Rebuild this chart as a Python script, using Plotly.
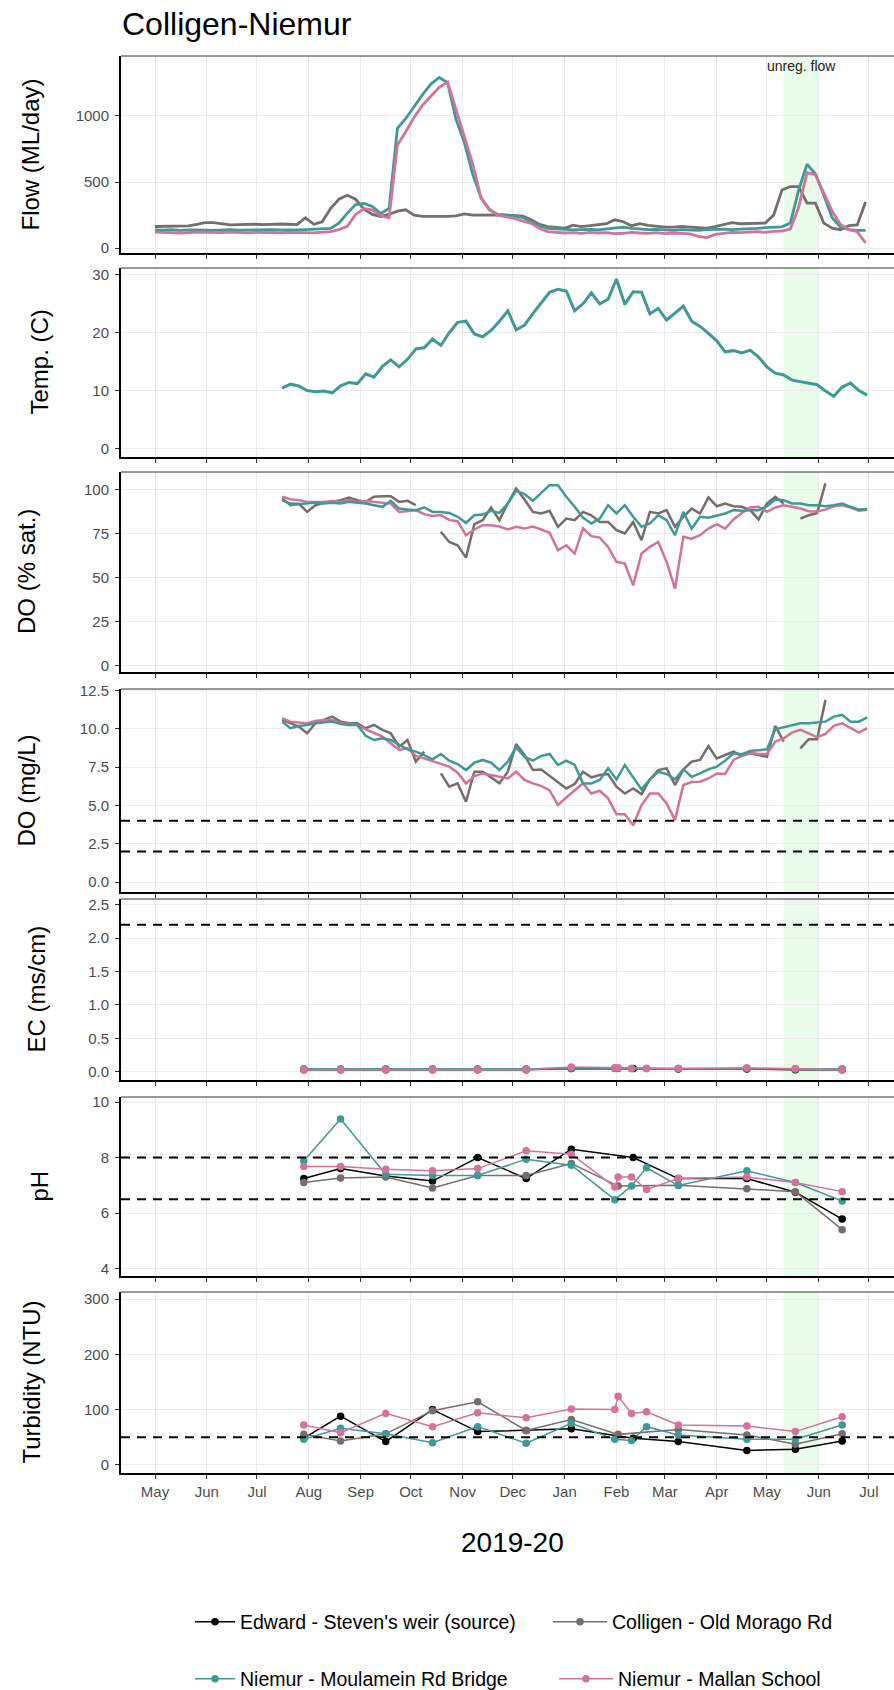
import pandas as pd
import plotly.graph_objects as go

# ---------------- DATA ----------------
SITES = ["Edward - Steven's weir (source)", "Colligen - Old Morago Rd",
         "Niemur - Moulamein Rd Bridge", "Niemur - Mallan School"]
SITE_COLORS = ["#000000", "#776d6b", "#3f9a93", "#d4729b"]

# Flow (ML/day), every 5 days from 1 May 2019
flow_dates = pd.date_range("2019-05-01", periods=86, freq="5D")
flow_colligen = [164, 164, 164, 166, 169, 181, 194, 194, 185, 176, 179, 181, 181, 178, 181, 183, 181, 178, 230, 181,
                 200, 300, 370, 400, 370, 295, 255, 240, 255, 280, 290, 250, 240, 240, 238, 240, 245, 260, 250, 252,
                 252, 252, 250, 245, 242, 215, 180, 164, 158, 151, 175, 164, 170, 176, 185, 215, 200, 170, 185, 172,
                 164, 160, 160, 164, 160, 155, 151, 164, 180, 194, 185, 185, 185, 190, 250, 440, 466, 466, 340, 340,
                 190, 151, 140, 170, 176, 350]
flow_moulamein = [138, 136, 140, 135, 138, 140, 137, 135, 138, 140, 136, 138, 135, 137, 140, 138, 136, 138, 140, 142,
                  145, 150, 190, 265, 330, 338, 315, 262, 300, 905, 980, 1070, 1160, 1240, 1290, 1250, 975, 800, 560, 380,
                  290, 255, 250, 245, 232, 200, 170, 151, 145, 140, 138, 140, 142, 138, 145, 150, 160, 150, 145, 140,
                  142, 138, 135, 140, 138, 135, 140, 142, 145, 140, 142, 145, 150, 155, 158, 162, 190, 440, 635, 560,
                  400, 230, 160, 140, 135, 135]
flow_mallan = [121, 118, 120, 115, 118, 122, 120, 117, 119, 121, 118, 116, 120, 118, 115, 117, 119, 121, 118, 116,
               120, 125, 140, 165, 255, 300, 290, 245, 230, 780, 880, 990, 1080, 1150, 1215, 1255, 1050, 830, 640, 380,
               295, 250, 240, 225, 205, 188, 150, 126, 120, 115, 118, 112, 120, 115, 118, 110, 113, 120, 115, 112,
               118, 110, 115, 112, 108, 90, 80, 105, 115, 120, 118, 122, 125, 120, 128, 130, 145, 310, 570, 555,
               420, 280, 180, 140, 125, 40]

# Logger water quality, every 5 days from 16 Jul 2019
wq_dates = pd.date_range("2019-07-16", periods=71, freq="5D")
temp_moulamein = [10.4, 11.1, 10.8, 10.0, 9.8, 9.9, 9.6, 10.8, 11.4, 11.2, 12.9, 12.3, 14.2, 15.3, 14.1, 15.4, 17.2,
                  17.4, 18.9, 17.8, 20.0, 21.8, 22.0, 19.8, 19.3, 20.4, 22.0, 23.8, 20.5, 21.3, 23.3, 25.1, 27.0, 27.5,
                  27.2, 23.8, 25.0, 26.9, 25.0, 25.8, 29.3, 24.9, 27.1, 27.0, 23.3, 24.2, 22.2, 23.4, 24.6, 22.0, 21.1,
                  19.9, 18.6, 16.7, 16.9, 16.5, 17.0, 15.8, 14.1, 13.0, 12.7, 11.8, 11.5, 11.2, 11.0, 9.9, 9.0, 10.6,
                  11.3, 10.0, 9.2]
dosat_colligen = [94, 92, 92, 87.3, 91.1, 92.5, 93, 94, 95.5, 94, 93, 95.9, 96.2, 96.2, 93, 93.6, 91.1, None, None, 76,
                  70.2, 68.3, 61.3, 80.3, 82.6, 89.8, 82.6, 92.1, 100.6, 94.3, 87.3, 86.4, 87.9, 78.8, 83.5, 82.6,
                  87.3, 85.4, 81.6, 81.6, 76.9, 75, 81.6, 71.2, 87.3, 86.4, 88.3, 78.8, 84.5, 89.2, 86.4, 95.5, 90.5,
                  92.1, 90.5, 90.2, 88.3, 83, 92.1, 95.9, 92.1, None, 83.5, 85.4, 86.7, 103.5, None, None, None, None,
                  None]
dosat_moulamein = [95, 91.1, 91.7, 92.1, 92.6, 92.1, 92.5, 92.1, 93, 92.5, 92.1, 91.1, 90.2, 93.6, 89.2, 88.6, 88.3,
                   89.8, 87.3, 87.3, 86.7, 84.5, 81.1, 85.4, 85.8, 87.9, 86.7, 92.1, 99.3, 97.4, 93.6, 98.1, 102.5,
                   102.5, 95.9, 90.2, 84, 80.7, 83.5, 91.1, 86.4, 91.1, 84.5, 78.8, 80.7, 85.4, 82.6, 74, 87.3, 77.8,
                   84.5, 84, 85.4, 86.4, 88.3, 87.9, 88.3, 88.3, 90.5, 94.3, 94, 92.1, 92.1, 91.1, 91.1, 90.5, 91.1,
                   92.1, 90.2, 88.6, 89]
dosat_mallan = [96, 94.5, 94, 93, 93, 93, 93.5, 93, 94, 93, 93.5, 93, 92.5, 92, 87.3, 88, 88.3, 86, 85, 85.5, 82.6, 82,
                74, 77.3, 79.7, 79.7, 79, 77.3, 78.8, 77.8, 79, 77.3, 75.4, 65.5, 68.3, 63.6, 78, 73.5, 72.7, 67.4,
                58.9, 57.9, 45.5, 63.6, 67.4, 70.2, 58.9, 43.6, 73.1, 72.1, 74, 77.8, 80.3, 77.8, 83, 86.7, 89.8, 90.2,
                87.3, 89.8, 91.1, 90.2, 89.2, 87.7, 87.5, 88.6, 90.5, 91.1, 89.8, 87.9, 88.5]
domg_colligen = [10.58, 10.36, 10.15, 9.71, 10.36, 10.58, 10.8, 10.47, 10.36, 10.36, 10.04, 10.25, 9.93, 9.71, 8.84,
                 9.27, 7.86, 8.51, None, 7.09, 6.22, 6.44, 5.24, 7.2, 7.2, 6.83, 6.44, 7.2, 9.01, 8.29, 7.31, 7.35,
                 6.92, 6.55, 6.11, 6.4, 7.2, 6.83, 6.98, 7.05, 6.22, 5.78, 6.11, 5.74, 6.7, 7.31, 7.42, 6.33, 7.35,
                 7.86, 7.97, 8.88, 8.07, 8.29, 8.51, 8.23, 8.4, 8.29, 8.18, 10.19, 9.17, None, 8.73, 9.32, 9.32, 11.89,
                 None, None, None, None, None]
domg_moulamein = [10.47, 10.04, 10.19, 10.25, 10.36, 10.41, 10.47, 10.32, 10.25, 10.25, 9.54, 9.27, 9.38, 9.27, 8.95,
                  8.66, 8.51, 8.29, 8.01, 8.36, 7.92, 7.7, 7.31, 7.79, 7.97, 7.79, 7.31, 7.86, 8.79, 8.18, 7.92, 8.23,
                  8.36, 7.64, 7.92, 7.64, 6.44, 6.44, 6.66, 7.42, 6.7, 7.64, 6.83, 6.05, 6.7, 7.2, 7.05, 6.7, 7.35,
                  6.87, 7.09, 7.35, 7.53, 7.92, 8.4, 8.34, 8.55, 8.62, 8.66, 9.97, 10.1, 10.25, 10.36, 10.36, 10.41,
                  10.47, 10.8, 10.91, 10.47, 10.47, 10.75]
domg_mallan = [10.69, 10.47, 10.41, 10.36, 10.52, 10.58, 10.58, 10.36, 10.32, 10.25, 9.97, 9.71, 9.49, 9.06, 8.62,
               8.73, 8.23, 8.07, 7.9, 7.75, 7.53, 7.14, 6.44, 6.92, 7.09, 6.98, 6.87, 6.76, 7.2, 6.66, 6.44, 6.26, 6.0,
               5.02, 5.52, 6.0, 6.44, 5.78, 5.96, 5.46, 4.43, 4.43, 3.71, 5.02, 5.78, 5.78, 5.13, 4.04, 6.33, 6.53,
               6.55, 6.76, 7.09, 7.05, 7.97, 8.23, 8.45, 8.36, 8.36, 9.17, 9.38, 9.75, 9.93, 9.71, 9.45, 9.67, 10.19,
               10.36, 10.04, 9.75, 10.05]

# Spot samples
edward_dates = ["2019-07-29", "2019-08-20", "2019-09-16", "2019-10-14", "2019-11-10", "2019-12-09", "2020-01-05",
                "2020-02-11", "2020-03-09", "2020-04-19", "2020-05-18", "2020-06-15"]
colligen_dates = ["2019-07-29", "2019-08-20", "2019-09-16", "2019-10-14", "2019-11-10", "2019-12-09", "2020-01-05",
                  "2020-02-02", "2020-03-09", "2020-04-19", "2020-05-18", "2020-06-15"]
moulamein_dates = ["2019-07-29", "2019-08-20", "2019-09-16", "2019-10-14", "2019-11-10", "2019-12-09", "2020-01-05",
                   "2020-01-31", "2020-02-10", "2020-02-19", "2020-03-09", "2020-04-19", "2020-05-18", "2020-06-15"]
mallan_dates = ["2019-07-29", "2019-08-20", "2019-09-16", "2019-10-14", "2019-11-10", "2019-12-09", "2020-01-05",
                "2020-01-31", "2020-02-02", "2020-02-10", "2020-02-19", "2020-03-09", "2020-04-19", "2020-05-18",
                "2020-06-15"]

ec_edward = [0.03, 0.03, 0.03, 0.03, 0.03, 0.03, 0.05, 0.05, 0.04, 0.04, 0.03, 0.03]
ec_colligen = [0.04, 0.04, 0.04, 0.04, 0.04, 0.04, 0.05, 0.05, 0.05, 0.05, 0.04, 0.04]
ec_moulamein = [0.04, 0.04, 0.04, 0.04, 0.04, 0.04, 0.06, 0.05, 0.05, 0.05, 0.05, 0.05, 0.04, 0.04]
ec_mallan = [0.03, 0.03, 0.03, 0.03, 0.03, 0.03, 0.07, 0.06, 0.06, 0.05, 0.05, 0.05, 0.06, 0.05, 0.03]

ph_edward = [7.24, 7.6, 7.33, 7.15, 8.0, 7.24, 8.3, 8.0, 7.24, 7.24, 6.75, 5.78]
ph_colligen = [7.1, 7.26, 7.3, 6.9, 7.35, 7.35, 7.78, 6.97, 7.0, 6.87, 6.77, 5.4]
ph_moulamein = [7.88, 9.39, 7.4, 7.35, 7.35, 7.94, 7.72, 6.48, 6.97, 7.63, 6.99, 7.52, 7.1, 6.43]
ph_mallan = [7.68, 7.68, 7.58, 7.52, 7.6, 8.24, 8.12, 6.94, 7.3, 7.3, 6.85, 7.24, 7.3, 7.1, 6.77]

turb_edward = [48, 88, 42, 100, 60, 62, 65, 48, 42, 26, 28, 43]
turb_colligen = [55, 43, 56, 98, 114, 62, 82, 55, 64, 54, 37, 56]
turb_moulamein = [46, 66, 56, 40, 69, 39, 75, 46, 44, 69, 54, 46, 46, 72]
turb_mallan = [72, 58, 93, 69, 94, 85, 101, 100, 124, 93, 96, 72, 70, 60, 87]

do_limits = [4, 2]
ec_limits = [2.2]
ph_limits = [8, 6.5]
turb_limits = [50]
unreg_period = ["2020-05-11", "2020-06-01"]

# ---------------- LAYOUT HELPERS ----------------
W, H = 894, 1690
PL, PR = 121, 894
X_RANGE = ["2019-04-10 16:00", "2020-07-16 00:00"]
FONT = "Liberation Sans, Arial, sans-serif"


def yp(px):
    return 1 - px / H


def xp(px):
    return (px - PL) / (PR - PL)


def ax(letter, i):
    return letter if i == 1 else f"{letter}{i}"


# (top px, bottom px, y range, tick values, tick format, title, title x px)
panels = [
    (56, 253, [-36, 1452], [0, 500, 1000], "", "Flow (ML/day)", 30),
    (268, 457, [-1.5, 31.2], [0, 10, 20, 30], "", "Temp. (C)", 39),
    (472, 672, [-3.8, 110], [0, 25, 50, 75, 100], "", "DO (% sat.)", 26),
    (689, 892, [-0.65, 12.6], [0, 2.5, 5, 7.5, 10, 12.5], ".1f", "DO (mg/L)", 26),
    (899, 1080, [-0.123, 2.585], [0, 0.5, 1, 1.5, 2, 2.5], ".1f", "EC (ms/cm)", 36),
    (1097, 1276, [3.73, 10.18], [4, 6, 8, 10], "", "pH", 39),
    (1292, 1473, [-15, 313], [0, 100, 200, 300], "", "Turbidity (NTU)", 31),
]

fig = go.Figure()


def add_line(x, y, color, idx, width=2.8):
    fig.add_trace(go.Scatter(x=x, y=y, mode="lines", line=dict(color=color, width=width),
                             xaxis=ax("x", idx), yaxis=ax("y", idx), showlegend=False,
                             connectgaps=False, hoverinfo="skip"))


# Flow
add_line(flow_dates, flow_colligen, SITE_COLORS[1], 1)
add_line(flow_dates, flow_moulamein, SITE_COLORS[2], 1)
add_line(flow_dates, flow_mallan, SITE_COLORS[3], 1)
# Temperature
add_line(wq_dates, temp_moulamein, SITE_COLORS[2], 2, 3)
# DO % sat
add_line(wq_dates, dosat_colligen, SITE_COLORS[1], 3, 2.5)
add_line(wq_dates, dosat_mallan, SITE_COLORS[3], 3, 2.5)
add_line(wq_dates, dosat_moulamein, SITE_COLORS[2], 3, 2.5)
# DO mg/L
add_line(wq_dates, domg_colligen, SITE_COLORS[1], 4, 2.5)
add_line(wq_dates, domg_mallan, SITE_COLORS[3], 4, 2.5)
add_line(wq_dates, domg_moulamein, SITE_COLORS[2], 4, 2.5)

sample_dates = [edward_dates, colligen_dates, moulamein_dates, mallan_dates]
point_sets = [
    (5, [ec_edward, ec_colligen, ec_moulamein, ec_mallan]),
    (6, [ph_edward, ph_colligen, ph_moulamein, ph_mallan]),
    (7, [turb_edward, turb_colligen, turb_moulamein, turb_mallan]),
]
LEGEND_IDS = ["legend", "legend2", "legend3", "legend4"]
for idx, series in point_sets:
    for s in range(4):
        fig.add_trace(go.Scatter(
            x=sample_dates[s], y=series[s], mode="lines+markers", name=SITES[s],
            line=dict(color=SITE_COLORS[s], width=1.5),
            marker=dict(color=SITE_COLORS[s], size=7.5),
            xaxis=ax("x", idx), yaxis=ax("y", idx),
            showlegend=(idx == 6), legend=LEGEND_IDS[s],
            hoverinfo="skip"))

layout = dict(
    width=W, height=H, margin=dict(l=PL, r=W - PR, t=0, b=0, autoexpand=False),
    plot_bgcolor="white", paper_bgcolor="white",
    font=dict(family=FONT, color="#000000"),
    shapes=[], annotations=[],
)

for i, (top, bot, yr, tv, tf, title, tx) in enumerate(panels, start=1):
    xa = dict(
        domain=[0, 1], anchor=ax("y", i), type="date", range=X_RANGE,
        tick0="2019-05-01", dtick="M1", tickformat="%b",
        showticklabels=(i == 7), ticks="outside", ticklen=4, tickcolor="#333333",
        showgrid=True, gridcolor="#ebebeb", gridwidth=1,
        showline=True, linecolor="#000000", linewidth=2, zeroline=False,
        tickfont=dict(size=15, color="#4d4d4d", family=FONT))
    if i > 1:
        xa["matches"] = "x"
    layout["xaxis" if i == 1 else f"xaxis{i}"] = xa
    layout["yaxis" if i == 1 else f"yaxis{i}"] = dict(
        domain=[yp(bot), yp(top)], anchor=ax("x", i), range=yr, tickvals=tv,
        tickformat=tf, ticks="outside", ticklen=4, tickcolor="#333333",
        ticklabelstandoff=3,
        showgrid=True, gridcolor="#ebebeb", gridwidth=1,
        showline=True, linecolor="#000000", linewidth=2, zeroline=False,
        tickfont=dict(size=15, color="#4d4d4d", family=FONT))
    # top border
    layout["shapes"].append(dict(type="line", xref=ax("x", i) + " domain", yref=ax("y", i) + " domain",
                                 x0=0, x1=1, y0=1, y1=1, line=dict(color="#333333", width=1)))
    # unregulated flow period
    layout["shapes"].append(dict(type="rect", xref=ax("x", i), yref=ax("y", i) + " domain",
                                 x0=unreg_period[0], x1=unreg_period[1], y0=0, y1=1,
                                 fillcolor="rgba(144,238,144,0.2)", line=dict(width=0), layer="below"))
    layout["annotations"].append(dict(
        text=title, textangle=-90, xref="paper", yref="paper",
        x=xp(tx), y=yp((top + bot) / 2), xanchor="center", yanchor="middle",
        showarrow=False, font=dict(size=24, color="#000000", family=FONT)))

for idx, lims in [(4, do_limits), (5, ec_limits), (6, ph_limits), (7, turb_limits)]:
    for v in lims:
        layout["shapes"].append(dict(type="line", xref=ax("x", idx) + " domain", yref=ax("y", idx),
                                     x0=0, x1=1, y0=v, y1=v,
                                     line=dict(color="#000000", width=2, dash="9px,7px")))

layout["annotations"].append(dict(
    text="unreg. flow", xref="x", yref="y", x="2020-05-21 12:00", y=1377,
    xanchor="center", yanchor="middle", showarrow=False,
    font=dict(size=14, color="#222222", family=FONT)))
layout["annotations"].append(dict(
    text="Colligen-Niemur", xref="paper", yref="paper", x=xp(120), y=yp(24),
    xanchor="left", yanchor="middle", showarrow=False,
    font=dict(size=32, color="#000000", family=FONT)))
layout["annotations"].append(dict(
    text="2019-20", xref="paper", yref="paper", x=xp(512), y=yp(1542),
    xanchor="center", yanchor="middle", showarrow=False,
    font=dict(size=28, color="#000000", family=FONT)))

legend_common = dict(orientation="h", xanchor="left", yanchor="middle",
                     font=dict(size=19.5, color="#000000", family=FONT),
                     bgcolor="rgba(0,0,0,0)", borderwidth=0)
# (x px, y px, item width)
legend_pos = [(190, 1622, 40), (548, 1622, 54), (190, 1679, 40), (554, 1679, 54)]
for lid, (lx, ly, iw) in zip(LEGEND_IDS, legend_pos):
    layout[lid] = dict(x=xp(lx), y=yp(ly), itemwidth=iw, **legend_common)

fig.update_layout(**layout)
fig.write_html("out.html")
